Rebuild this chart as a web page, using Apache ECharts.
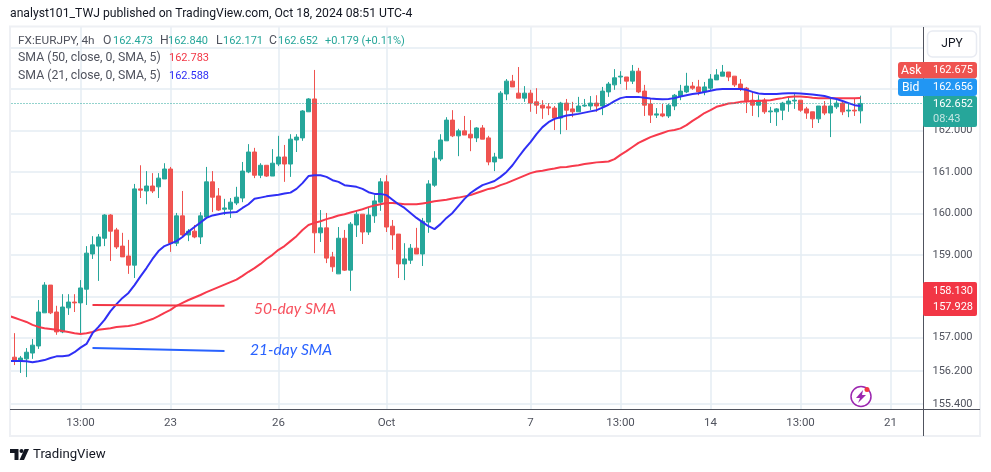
<!DOCTYPE html>
<html><head><meta charset="utf-8">
<style>html,body{margin:0;padding:0;background:#fff}#c{width:991px;height:472px}</style>
<script src="https://cdn.jsdelivr.net/npm/echarts@6/dist/echarts.min.js"></script>
</head><body><div id="c"></div>
<script>
// [open, close, low, high] of each 4h bar; the first bar sits just off the left edge of the picture
const candles = [
['-','-','-','-'],
[156.53,156.44,156.34,157.11],[156.44,156.51,156.15,156.56],[156.49,156.65,156.05,156.75],[156.63,156.82,156.49,156.97],[156.80,157.62,156.73,157.91],
[157.60,158.27,157.60,158.34],[158.27,157.60,157.57,158.27],[157.62,157.14,157.07,157.77],[157.14,157.74,157.11,158.05],[157.72,157.86,157.55,158.05],
[157.86,157.84,157.62,158.05],[157.84,158.20,157.09,158.39],[158.17,159.04,157.79,159.21],[159.02,159.24,158.90,159.45],[159.21,159.43,158.37,159.50],
[159.40,159.96,159.21,159.98],[159.96,159.57,158.85,159.98],[159.60,159.19,159.14,159.65],[159.21,158.95,158.95,159.53],[158.97,158.75,158.54,159.36],
[158.75,160.59,158.44,160.71],[160.59,160.56,160.37,161.16],[160.54,160.66,160.22,161.02],[160.66,160.54,160.49,160.97],[160.64,160.85,160.37,160.97],
[160.83,161.07,160.83,161.21],[161.07,159.28,159.07,161.12],[159.28,159.94,159.21,160.01],[159.94,159.48,159.45,160.54],[159.48,159.57,159.33,159.62],
[159.57,159.43,159.40,159.72],[159.43,159.94,159.26,160.03],[159.91,160.76,159.91,161.12],[160.76,160.39,160.03,161.02],[160.42,160.08,160.06,160.61],
[160.10,160.13,159.96,160.35],[160.10,160.27,159.89,160.37],[160.25,160.39,160.20,160.64],[160.37,161.02,160.27,161.24],[161.00,161.48,160.97,161.67],
[161.48,160.92,160.85,161.58],[160.92,161.16,160.85,161.21],[161.16,160.90,160.88,161.16],[160.90,161.21,160.90,161.55],[161.19,161.36,161.14,161.87],
[161.36,161.19,160.76,161.65],[161.19,161.79,160.88,161.91],[161.77,161.84,161.48,161.91],[161.82,162.47,161.75,162.49],[162.45,162.76,162.45,162.78],
[162.76,159.53,159.04,163.46],[159.53,159.65,159.31,160.08],[159.65,158.92,158.80,160.01],[158.95,158.71,158.59,159.07],[158.54,159.40,158.54,159.67],
[159.40,158.63,158.61,159.60],[158.63,159.74,158.13,159.79],[159.72,159.98,159.43,160.06],[159.98,159.55,159.26,159.98],[159.55,159.96,159.48,160.15],
[159.94,160.30,159.77,160.44],[160.27,160.76,160.06,160.85],[160.76,159.67,159.55,160.92],[159.69,159.48,159.12,159.84],[159.50,158.78,158.44,159.50],
[158.78,158.90,158.39,159.28],[158.87,159.16,158.78,159.26],[159.16,159.02,159.02,159.65],[159.02,159.81,158.73,159.89],[159.79,160.71,159.53,160.80],
[160.68,161.33,160.64,161.50],[161.31,161.77,161.26,161.91],[161.75,162.25,161.75,162.32],[162.25,161.87,161.84,162.49],[161.87,161.99,161.38,162.04],
[161.99,161.89,161.89,162.35],[161.91,161.82,161.50,162.25],[161.82,162.06,161.72,162.08],[162.06,161.79,161.79,162.13],[161.82,161.24,161.16,161.87],
[161.24,161.36,161.02,161.46],[161.33,162.90,161.31,162.95],[162.88,163.19,162.73,163.24],[163.19,163.05,163.05,163.34],[162.90,162.78,162.78,163.53],
[162.78,162.90,162.69,163.07],[162.90,162.66,162.45,162.98],[162.69,162.61,162.40,163.02],[162.61,162.54,162.28,162.73],[162.57,162.54,162.37,162.66],
[162.54,162.30,162.01,162.59],[162.30,162.66,161.91,162.69],[162.66,162.49,162.01,162.76],[162.52,162.45,162.32,162.69],[162.45,162.59,162.45,162.81],
[162.59,162.61,162.57,162.76],[162.59,162.66,162.49,162.83],[162.66,162.59,162.45,162.85],[162.59,162.95,162.37,163.05],[162.93,163.12,162.81,163.17],
[163.10,163.27,162.98,163.48],[163.29,163.31,163.12,163.43],[163.29,163.19,162.98,163.29],[163.19,163.43,163.12,163.58],[163.43,162.93,162.90,163.51],
[162.95,162.61,162.35,163.10],[162.64,162.37,162.18,162.76],[162.37,162.40,162.30,162.54],[162.40,162.35,162.32,162.64],[162.35,162.61,162.30,162.64],
[162.59,162.85,162.49,162.88],[162.83,162.95,162.73,163.10],[162.93,163.07,162.90,163.39],[163.07,163.02,162.98,163.17],[163.05,162.93,162.85,163.22],
[162.93,163.05,162.85,163.17],[163.02,163.24,162.95,163.36],[163.22,163.34,163.22,163.48],[163.31,163.41,163.31,163.58],[163.41,163.29,163.19,163.41],
[163.31,163.10,163.05,163.31],[163.12,163.00,162.95,163.24],[163.02,162.71,162.42,163.05],[162.73,162.61,162.35,162.93],[162.61,162.73,162.32,162.85],
[162.73,162.45,162.40,162.78],[162.45,162.47,162.18,162.57],[162.45,162.52,162.11,162.54],[162.49,162.66,162.25,162.69],[162.64,162.71,162.45,162.81],
[162.71,162.73,162.52,162.88],[162.73,162.49,162.45,162.73],[162.52,162.42,162.28,162.57],[162.45,162.28,162.06,162.45],[162.28,162.59,162.18,162.59],
[162.59,162.42,162.37,162.71],[162.42,162.59,161.84,162.76],[162.57,162.66,162.52,162.73],[162.66,162.45,162.37,162.69],[162.47,162.49,162.32,162.64],
[162.49,162.47,162.35,162.78],[162.473,162.652,162.171,162.840]
];
const sma50 = [
157.53,
157.48,157.43,157.38,157.31,157.26,157.23,157.21,157.19,157.16,157.14,
157.11,157.09,157.11,157.14,157.19,157.21,157.23,157.26,157.27,157.28,
157.31,157.35,157.40,157.45,157.52,157.60,157.67,157.77,157.84,157.91,
157.97,158.03,158.10,158.16,158.22,158.28,158.34,158.40,158.49,158.59,
158.68,158.78,158.90,159.00,159.12,159.21,159.33,159.45,159.60,159.72,
159.77,159.81,159.86,159.90,159.95,159.98,160.02,160.06,160.10,160.15,
160.19,160.22,160.25,160.25,160.24,160.22,160.22,160.22,160.24,160.26,
160.29,160.31,160.33,160.36,160.38,160.41,160.44,160.49,160.54,160.59,
160.62,160.68,160.73,160.79,160.85,160.91,160.97,161.01,161.03,161.06,
161.08,161.11,161.12,161.14,161.16,161.19,161.21,161.23,161.24,161.25,
161.31,161.41,161.50,161.60,161.70,161.77,161.84,161.89,161.94,161.99,
162.01,162.05,162.13,162.23,162.32,162.42,162.49,162.57,162.61,162.65,
162.66,162.69,162.70,162.71,162.71,162.72,162.73,162.76,162.78,162.81,
162.82,162.82,162.81,162.79,162.78,162.78,162.78,162.78,162.78,162.78,
162.78,162.783
];
const sma21 = [
156.44,
156.44,156.44,156.43,156.41,156.43,156.46,156.51,156.55,156.55,156.57,
156.65,156.76,156.85,157.11,157.26,157.43,157.64,157.81,157.96,158.08,
158.27,158.48,158.68,158.90,159.09,159.21,159.27,159.33,159.43,159.56,
159.67,159.78,159.89,159.95,159.98,160.01,160.02,160.03,160.13,160.22,
160.35,160.38,160.41,160.43,160.45,160.48,160.50,160.59,160.73,160.90,
160.92,160.92,160.88,160.80,160.76,160.68,160.66,160.64,160.59,160.51,
160.47,160.47,160.44,160.33,160.22,160.13,160.01,159.89,159.79,159.69,
159.62,159.74,159.89,160.01,160.18,160.35,160.49,160.59,160.68,160.73,
160.78,160.88,161.00,161.16,161.36,161.55,161.72,161.91,162.08,162.20,
162.28,162.32,162.36,162.38,162.40,162.43,162.46,162.49,162.55,162.62,
162.71,162.78,162.81,162.81,162.81,162.79,162.77,162.76,162.75,162.76,
162.78,162.82,162.85,162.88,162.90,162.93,162.96,162.99,163.00,163.00,
163.00,163.00,162.98,162.93,162.89,162.88,162.88,162.88,162.89,162.90,
162.90,162.89,162.88,162.87,162.85,162.83,162.79,162.76,162.71,162.66,
162.61,162.588
];
const tickIndex = [12,27,45,63,87,102,117,132,147];
const tickLabels = ['13:00','23','26','Oct','7','13:00','14','13:00','21'];
const gridPrices = [155.4,156.2,157,158,159,160,161,162,163,164];
const labelPrices = [155.4,156.2,157,159,160,161,162];
const note50 = [[14,157.79],[36,157.77]];
const note21 = [[14,156.75],[36,156.68]];
const lastPrice = 162.652;
const barCount = 153;

const categories = [];
for (let i = 0; i < barCount; i++) {
  const k = tickIndex.indexOf(i);
  categories.push(k >= 0 ? tickLabels[k] : '');
}
const showTick = (i) => tickIndex.indexOf(i) >= 0;

const FONT = 'Roboto, sans-serif';
const TXT = '#50535e', GREEN = '#26a69a', RED = '#ef5350', AXIS = '#50535e';
const t = (x, y, text, fill, extra) => ({type:'text', z:20, style:Object.assign({x, y, text, fill, font:'11px '+FONT, textVerticalAlign:'middle'}, extra||{})});
const box = (x, y, w, h, fill, r) => ({type:'rect', z:19, shape:{x, y, width:w, height:h, r:r||0}, style:{fill}});
const LBL = {font:'12.2px '+FONT};

const graphics = [
  {type:'rect', z:6, shape:{x:0,y:26,width:10,height:411}, style:{fill:'#fff'}},
  {type:'rect', z:7, shape:{x:10,y:26.5,width:970,height:409.5}, style:{fill:'none', stroke:'#eef0f4', lineWidth:2}},
  {type:'line', z:8, shape:{x1:923.5,y1:27,x2:923.5,y2:436}, style:{stroke:AXIS,lineWidth:1}},
  {type:'line', z:8, shape:{x1:10,y1:409.5,x2:980,y2:409.5}, style:{stroke:AXIS,lineWidth:1}},
  t(10,14,'analyst101_TWJ published on TradingView.com, Oct 18, 2024 08:51 UTC-4','#131722',{font:'12.2px '+FONT}),
  t(18,41,'FX:EURJPY, 4h',TXT,{font:'11.8px '+FONT}),
  t(103,41,'O',TXT,LBL), t(113,41,'162.473',GREEN),
  t(160,41,'H',TXT,LBL), t(168,41,'162.840',GREEN),
  t(216,41,'L',TXT,LBL), t(223,41,'162.171',GREEN),
  t(269,41,'C',TXT,LBL), t(278,41,'162.652',GREEN),
  t(325,41,'+0.179 (+0.11%)',GREEN),
  t(18,58,'SMA (50, close, 0, SMA, 5)',TXT,{font:'12.3px '+FONT}), t(169,58,'162.783','#f23645'),
  t(18,76,'SMA (21, close, 0, SMA, 5)',TXT,{font:'12.3px '+FONT}), t(169,76,'162.588','#2f2ff5'),
  {type:'rect', z:19, shape:{x:927.5,y:31,width:49,height:26,r:5}, style:{fill:'#fff',stroke:'#e8ebf2',lineWidth:1.5}},
  t(952,44,'JPY','#131722',{textAlign:'center',font:'12px '+FONT}),
  box(898,62,79,16.5,RED,3), t(901,70.5,'Ask','#fff',LBL), t(933,70.5,'162.675','#fff'),
  box(898,78.5,79,17.5,'#2196f3',3), t(902,87.5,'Bid','#fff',LBL), t(933,87.5,'162.656','#fff'),
  box(923,96,54,31,GREEN,2), t(933,104.5,'162.652','#fff'), t(933,119,'08:43','#c4e6e2'),
  box(923,282,54,34,'#f23645',2), t(933,291,'158.130','#fff'), t(933,307,'157.928','#fff'),
  t(254,309,'50-day SMA','#f7525f',{font:'italic 15.6px Lato, '+FONT}),
  t(250,350,'21-day SMA','#2962ff',{font:'italic 15.6px Lato, '+FONT}),
  {type:'circle', z:20, shape:{cx:861,cy:396.5,r:10}, style:{fill:'#fff',stroke:'#9c27b0',lineWidth:1.5}},
  {type:'polygon', z:20, shape:{points:[[863,390],[856,398],[860,398],[858,403],[866,395],[862,395]]}, style:{fill:'#9c27b0'}},
  {type:'circle', z:21, shape:{cx:867,cy:389.5,r:2.5}, style:{fill:'#f23645'}},
  {type:'polygon', z:20, shape:{points:[[10,449],[18.5,449],[18.5,460],[14.5,460],[14.5,453],[10,453]]}, style:{fill:'#131722'}},
  {type:'circle', z:20, shape:{cx:21.5,cy:451,r:2}, style:{fill:'#131722'}},
  {type:'polygon', z:20, shape:{points:[[24.5,449],[29,449],[24,460],[19.5,460]]}, style:{fill:'#131722'}},
  t(33,455,'TradingView','#131722',{font:'13.2px '+FONT})
];

const chart = echarts.init(document.getElementById('c'), null, {renderer:'canvas'});
chart.setOption({
  animation:false,
  backgroundColor:'#fff',
  textStyle:{fontFamily:FONT},
  grid:{left:5.5, top:27, width:918, height:382},
  xAxis:{
    type:'category', data:categories, boundaryGap:true,
    axisLine:{show:false}, axisTick:{show:false},
    axisLabel:{interval:(i)=>showTick(i), color:TXT, fontSize:11.5, margin:8, fontFamily:FONT},
    splitLine:{show:true, interval:(i)=>showTick(i), alignWithLabel:true, lineStyle:{color:'#e4ecf3',width:1.5}}
  },
  yAxis:{
    type:'value', position:'right', min:155.28, max:164.496, scale:true,
    axisLine:{show:false}, axisTick:{show:false, customValues:gridPrices},
    axisLabel:{customValues:labelPrices, color:TXT, fontSize:11, margin:9, fontFamily:FONT, formatter:(v)=>v.toFixed(3), hideOverlap:false},
    splitLine:{show:true, lineStyle:{color:'#e4ecf3',width:1.5}}
  },
  series:[
    {type:'candlestick', name:'FX:EURJPY', data:candles, barWidth:4, z:3, clip:true,
     itemStyle:{color:GREEN,color0:RED,borderColor:GREEN,borderColor0:RED,borderWidth:1},
     markLine:{silent:true,symbol:'none',label:{show:false},lineStyle:{color:GREEN,type:[1,2],width:1},data:[{yAxis:lastPrice}]}},
    {type:'line', name:'SMA 50', data:sma50, showSymbol:false, symbol:'none', z:4, lineStyle:{color:'#f73a4c',width:2}},
    {type:'line', name:'SMA 21', data:sma21, showSymbol:false, symbol:'none', z:4, lineStyle:{color:'#2f2ff5',width:2}},
    {type:'line', name:'50-day SMA', data:note50, showSymbol:false, symbol:'none', z:4, lineStyle:{color:'#f23645',width:2}},
    {type:'line', name:'21-day SMA', data:note21, showSymbol:false, symbol:'none', z:4, lineStyle:{color:'#2962ff',width:2}}
  ],
  graphic:{elements:graphics}
});
</script></body></html>
